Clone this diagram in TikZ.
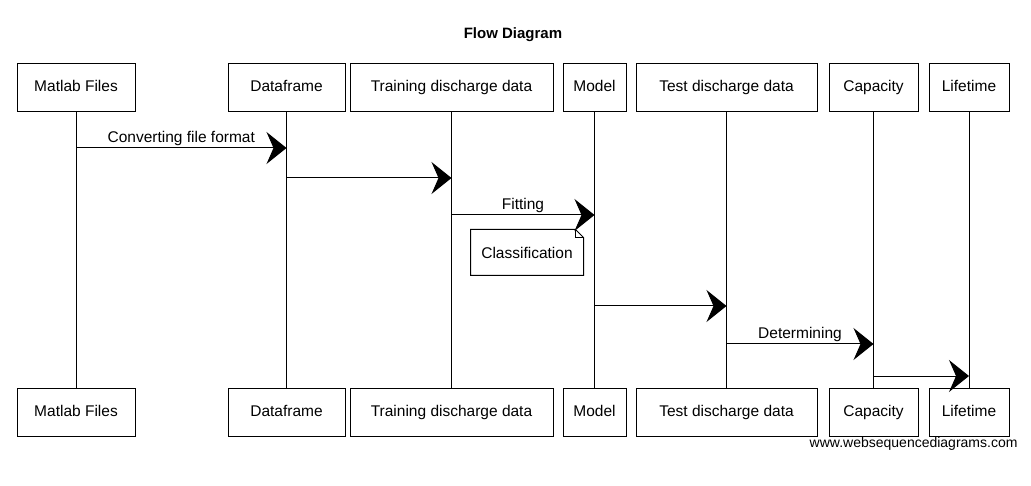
\documentclass[tikz,border=0pt]{standalone}
\usepackage{fontspec}
\setmainfont{Liberation Sans}
\usepackage{tikz}
\usetikzlibrary{arrows.meta}
\usetikzlibrary{positioning}

\begin{document}
\begin{tikzpicture}[x=1pt,y=-1pt,line width=1pt,
    actor/.style={draw,fill=white,minimum height=48pt,inner sep=0pt,
      text height=11pt,text depth=3pt,font=\fontsize{15.5}{17}\selectfont},
    msg/.style={-{Stealth[length=20pt,width=32pt,inset=7pt]}},
    lbl/.style={font=\fontsize{15.5}{17}\selectfont,inner sep=1pt}]
        \useasboundingbox (0,0) rectangle (1031,486);
        \def\top{88}
        \def\bot{412}
        \node[font=\bfseries\fontsize{15}{17}\selectfont] (title) at (513,35) {Flow Diagram};
        % top row of participants
        \node[actor,minimum width=118pt] (mf) at (76,\top) {Matlab Files};
        \node[actor,minimum width=117pt] (df) at (286.5,\top) {Dataframe};
        \node[actor,minimum width=203pt] (tr) at (451.5,\top) {Training discharge data};
        \node[actor,minimum width=63pt] (md) at (594.5,\top) {Model};
        \node[actor,minimum width=181pt] (te) at (726.5,\top) {Test discharge data};
        \node[actor,minimum width=89pt] (cp) at (873.5,\top) {Capacity};
        \node[actor,minimum width=80pt] (lt) at (969,\top) {Lifetime};
        % bottom row
        \node[actor,minimum width=118pt] (mfb) at (76,\bot) {Matlab Files};
        \node[actor,minimum width=117pt] (dfb) at (286.5,\bot) {Dataframe};
        \node[actor,minimum width=203pt] (trb) at (451.5,\bot) {Training discharge data};
        \node[actor,minimum width=63pt] (mdb) at (594.5,\bot) {Model};
        \node[actor,minimum width=181pt] (teb) at (726.5,\bot) {Test discharge data};
        \node[actor,minimum width=89pt] (cpb) at (873.5,\bot) {Capacity};
        \node[actor,minimum width=80pt] (ltb) at (969,\bot) {Lifetime};
        % lifelines
        \foreach \p in {mf,df,tr,md,te,cp,lt}
          \draw (\p.south) -- (\p b.north);
        % messages
        \draw[msg] (mf |- 0,148) -- node[lbl,above=1pt] (m1) {Converting file format} (df |- 0,148);
        \draw[msg] (df |- 0,178) -- (tr |- 0,178);
        \draw[msg] (tr |- 0,215) -- node[lbl,above=1pt] (m3) {Fitting} (md |- 0,215);
        % note with folded corner
        \node[lbl,minimum width=112pt,minimum height=45pt] (cls) at (527,252.5) {Classification};
        \draw (cls.north west) -- ([xshift=-8pt]cls.north east)
          -- ([yshift=-8pt]cls.north east) -- (cls.south east) -- (cls.south west) -- cycle;
        \draw ([xshift=-8pt]cls.north east) -- ([xshift=-8pt,yshift=-8pt]cls.north east)
          -- ([yshift=-8pt]cls.north east);
        \draw[msg] (md |- 0,306) -- (te |- 0,306);
        \draw[msg] (te |- 0,344) -- node[lbl,above=1pt] (m6) {Determining} (cp |- 0,344);
        \draw[msg] (cp |- 0,376) -- (lt |- 0,376);
        \node[anchor=east,font=\fontsize{14}{16}\selectfont,inner sep=0pt] (ws) at (1018,444) {www.websequencediagrams.com};
      \end{tikzpicture}
\end{document}
